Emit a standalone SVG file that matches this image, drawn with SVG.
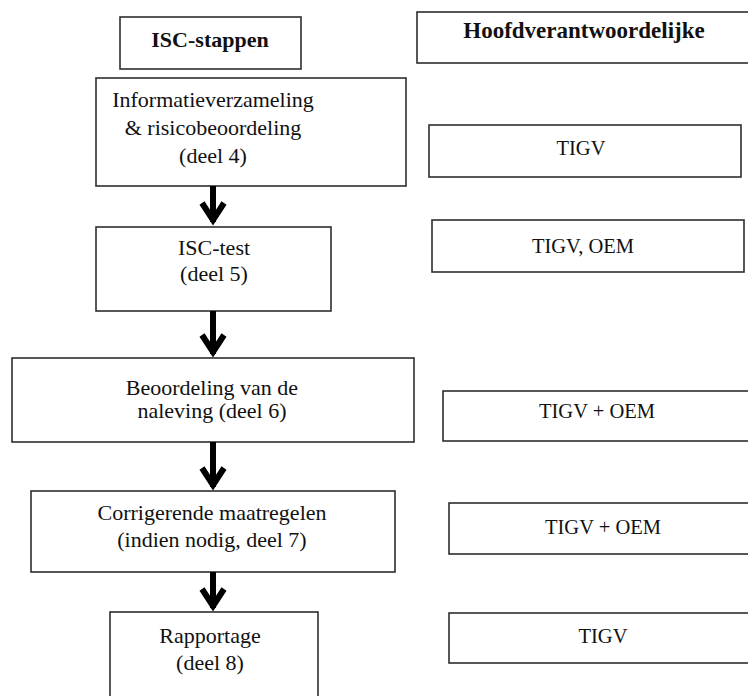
<svg xmlns="http://www.w3.org/2000/svg" xmlns:xlink="http://www.w3.org/1999/xlink" width="748" height="696" viewBox="0 0 748 696">
  <style>
    .box { fill: #ffffff; stroke: #2e2e2e; stroke-width: 1.6; }
    .t { font-family: "Liberation Serif", "Times New Roman", serif; font-size: 22px; fill: #111; text-anchor: middle; }
    .tr { font-family: "Liberation Serif", "Times New Roman", serif; font-size: 20.5px; fill: #111; text-anchor: middle; }
    .hb { font-weight: bold; }
    .shaft { stroke: #000; stroke-width: 6; fill: none; }
    .head { stroke: #000; stroke-width: 6; fill: none; stroke-linejoin: miter; stroke-miterlimit: 10; }
  </style>
  <defs>
    <path id="chev" class="head" d="M-11,-23 L0,-6 L11,-23"/>
  </defs>
  <rect width="748" height="696" fill="#ffffff"/>

  <g id="hdr-steps">
    <rect class="box" x="120" y="17" width="181" height="52"/>
    <text class="t hb" x="210" y="47">ISC-stappen</text>
  </g>
  <g id="hdr-resp">
    <rect class="box" x="417" y="12" width="345" height="51"/>
    <text class="t hb" x="584" y="38" style="font-size:23px">Hoofdverantwoordelijke</text>
  </g>

  <g id="step4">
    <rect class="box" x="96" y="78" width="310" height="108"/>
    <text class="t" x="213" y="107">Informatieverzameling</text>
    <text class="t" x="213" y="135">&amp; risicobeoordeling</text>
    <text class="t" x="213" y="163">(deel 4)</text>
  </g>
  <g id="step5">
    <rect class="box" x="96" y="227" width="235" height="84"/>
    <text class="t" x="214" y="255">ISC-test</text>
    <text class="t" x="214" y="281">(deel 5)</text>
  </g>
  <g id="step6">
    <rect class="box" x="12" y="358" width="402" height="84"/>
    <text class="t" x="212" y="395">Beoordeling van de</text>
    <text class="t" x="212" y="418">naleving (deel 6)</text>
  </g>
  <g id="step7">
    <rect class="box" x="31" y="491" width="364" height="81"/>
    <text class="t" x="212" y="520">Corrigerende maatregelen</text>
    <text class="t" x="212" y="547">(indien nodig, deel 7)</text>
  </g>
  <g id="step8">
    <rect class="box" x="110" y="612" width="208" height="100"/>
    <text class="t" x="210" y="643">Rapportage</text>
    <text class="t" x="210" y="670">(deel 8)</text>
  </g>

  <g id="resp4">
    <rect class="box" x="429" y="125" width="312" height="52"/>
    <text class="tr" x="581" y="155">TIGV</text>
  </g>
  <g id="resp5">
    <rect class="box" x="432" y="220" width="312" height="52"/>
    <text class="tr" x="583" y="253">TIGV, OEM</text>
  </g>
  <g id="resp6">
    <rect class="box" x="443" y="391" width="320" height="50"/>
    <text class="tr" x="597" y="418">TIGV + OEM</text>
  </g>
  <g id="resp7">
    <rect class="box" x="449" y="503" width="314" height="51"/>
    <text class="tr" x="603" y="534">TIGV + OEM</text>
  </g>
  <g id="resp8">
    <rect class="box" x="449" y="613" width="314" height="50"/>
    <text class="tr" x="603" y="643">TIGV</text>
  </g>

  <g id="connectors">
    <line class="shaft" x1="213" y1="186" x2="213" y2="222"/>
    <use xlink:href="#chev" x="213" y="226"/>
    <line class="shaft" x1="213" y1="311" x2="213" y2="354"/>
    <use xlink:href="#chev" x="213" y="358"/>
    <line class="shaft" x1="213" y1="442" x2="213" y2="487"/>
    <use xlink:href="#chev" x="213" y="491"/>
    <line class="shaft" x1="213" y1="572" x2="213" y2="608"/>
    <use xlink:href="#chev" x="213" y="612"/>
  </g>
</svg>
